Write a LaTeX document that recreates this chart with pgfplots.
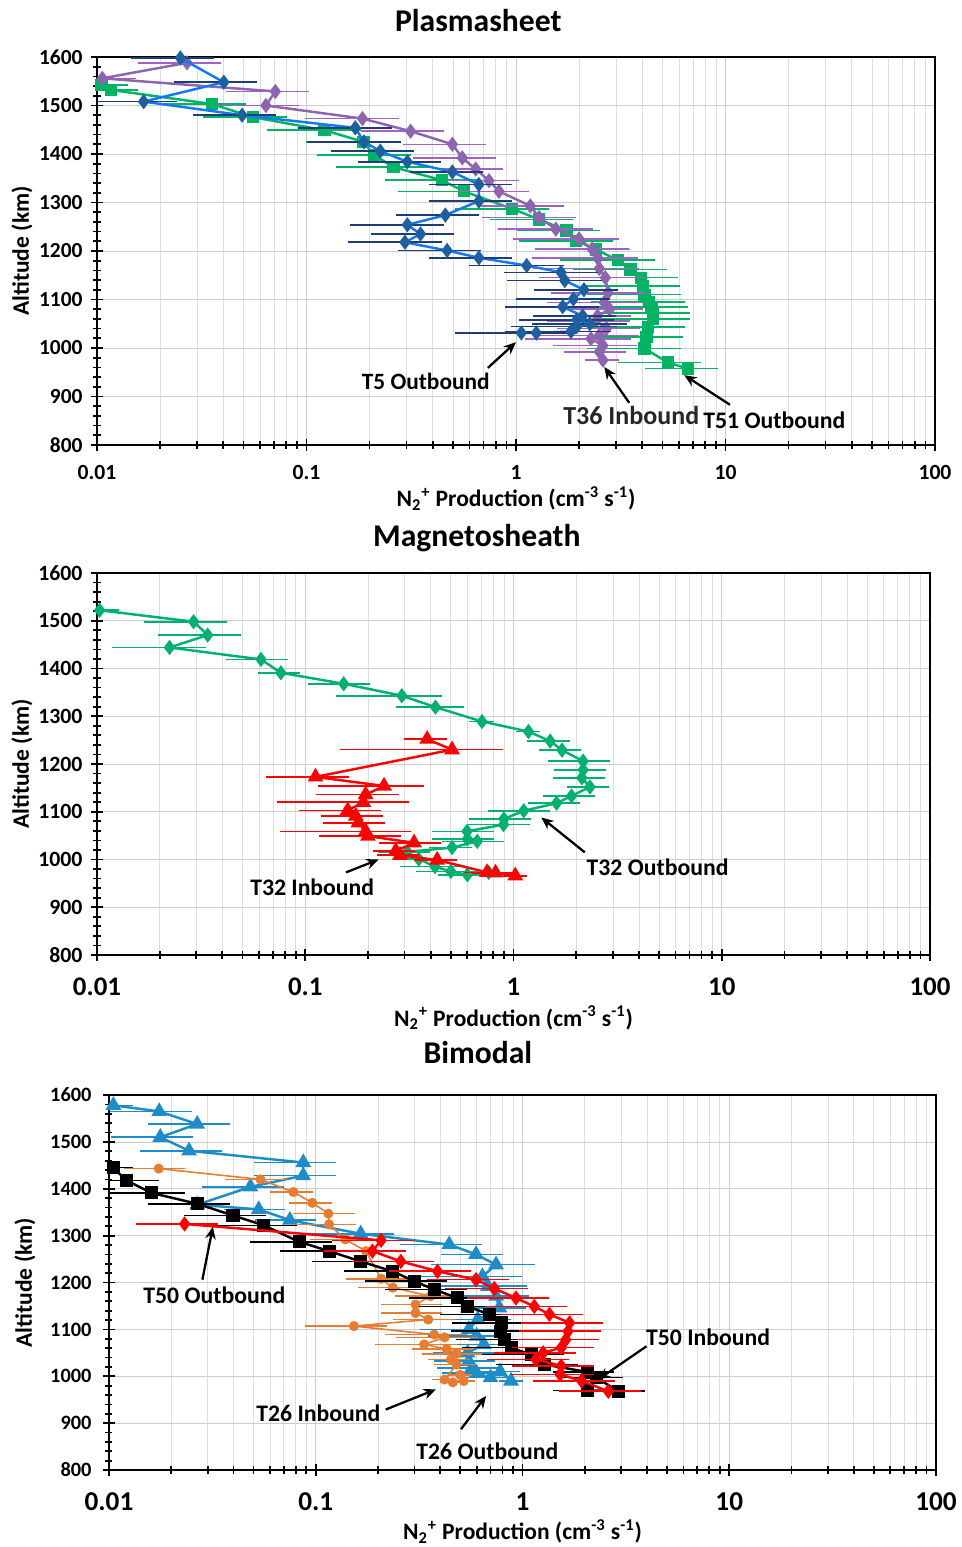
\documentclass[border=0pt]{standalone}
\usepackage{fontspec}
\setmainfont{Carlito}
\usepackage{pgfplots}
\pgfplotsset{compat=1.18}
\usetikzlibrary{arrows.meta}

\definecolor{tfiveline}{RGB}{20,120,245}
\definecolor{tfivemark}{RGB}{30,95,160}
\definecolor{tfiveerr}{RGB}{30,60,120}
\definecolor{tpurple}{RGB}{140,100,175}
\definecolor{tpurpleerr}{RGB}{165,95,200}
\definecolor{tgreen}{RGB}{0,180,100}
\definecolor{tgreentwo}{RGB}{0,176,110}
\definecolor{tred}{RGB}{255,0,0}
\definecolor{tblue}{RGB}{30,140,200}
\definecolor{torange}{RGB}{230,125,50}

\pgfplotsset{
  every axis/.append style={
    xmode=log, scale only axis,
    xmin=0.01, xmax=100, ymin=800, ymax=1600,
    xtick={0.01,0.1,1,10,100}, xticklabels={0.01,0.1,1,10,100},
    minor xtick={0.02,0.03,0.04,0.05,0.06,0.07,0.08,0.09,0.2,0.3,0.4,0.5,0.6,0.7,0.8,0.9,2,3,4,5,6,7,8,9,20,30,40,50,60,70,80,90},
    ytick={800,900,1000,1100,1200,1300,1400,1500,1600}, minor y tick num=4,
    xmajorgrids, xminorgrids, ymajorgrids,
    major grid style={black!20}, minor grid style={black!13},
    axis line style={line width=1.3pt},
    tick style={black, line width=1pt}, tick align=center, tick pos=left,
    major tick length=7pt, minor tick length=4pt,
    yticklabel style={/pgf/number format/assume math mode=true, /pgf/number format/1000 sep={}},
    clip mode=individual,
    xlabel={N\textsubscript{2}\textsuperscript{+} Production (cm\textsuperscript{-3} s\textsuperscript{-1})},
    ylabel={Altitude (km)},
  },
  myseries/.style n args={3}{line width=1.4pt, color=#1, mark options={solid, fill=#2, draw=#2},
    error bars/x dir=both, error bars/x explicit relative,
    error bars/error bar style={#3, line width=0.9pt},
    error bars/error mark options={#3, mark size=1.7pt, line width=0.9pt}},
}

\begin{document}
\begin{tikzpicture}
\path[use as bounding box] (0,0) rectangle (19.22cm,-30.94cm);

% ---------------- Plasmasheet ----------------
\begin{axis}[at={(1.94cm,-1.14cm)}, anchor=north west,
  width=16.76cm, height=7.76cm,
  title={Plasmasheet},
  title style={at={(axis description cs:0.455,1.066)}, anchor=center, font=\bfseries\fontsize{18}{20}\selectfont},
  xlabel style={at={(axis description cs:0.5,-0.137)}, anchor=center, font=\bfseries\fontsize{13.4}{15}\selectfont},
  ylabel style={at={(axis description cs:-0.0895,0.5)}, anchor=center, font=\bfseries\fontsize{13.4}{15}\selectfont},
  xticklabel style={anchor=center, yshift=-0.42cm, font=\bfseries\fontsize{12.3}{14}\selectfont},
  yticklabel style={anchor=east, inner sep=0pt, xshift=-0.16cm, font=\bfseries\fontsize{12.2}{14}\selectfont}]

\addplot[myseries={tgreen}{tgreen}{tgreen}, mark=square*, mark size=2.8pt] coordinates {
(0.0105,1542) +- (0.3,0)
(0.0117,1532) +- (0.3,0)
(0.0354,1503) +- (0.4,0)
(0.0555,1476) +- (0.4,0)
(0.122,1449) +- (0.45,0)
(0.187,1425) +- (0.45,0)
(0.21,1398) +- (0.45,0)
(0.26,1373) +- (0.45,0)
(0.443,1346) +- (0.45,0)
(0.564,1323) +- (0.5,0)
(0.96,1287) +- (0.45,0)
(1.29,1265) +- (0.4,0)
(1.74,1242) +- (0.4,0)
(1.94,1221) +- (0.45,0)
(2.41,1203) +- (0.4,0)
(3.06,1181) +- (0.45,0)
(3.52,1162) +- (0.45,0)
(3.96,1145) +- (0.45,0)
(4.03,1128) +- (0.45,0)
(4.1,1110) +- (0.45,0)
(4.3,1095) +- (0.45,0)
(4.43,1084) +- (0.45,0)
(4.5,1072) +- (0.45,0)
(4.5,1060) +- (0.45,0)
(4.26,1043) +- (0.45,0)
(4.2,1023) +- (0.45,0)
(4.11,999) +- (0.45,0)
(5.3,970) +- (0.4,0)
(6.6,958) +- (0.35,0)
};

\addplot[myseries={tpurple}{tpurple}{tpurpleerr}, mark=diamond*, mark size=3.2pt] coordinates {
(0.0269,1588) +- (0.4,0)
(0.0106,1556) +- (0.4,0)
(0.071,1529) +- (0.4,0)
(0.064,1500) +- (0.4,0)
(0.185,1473) +- (0.45,0)
(0.314,1447) +- (0.4,0)
(0.497,1420) +- (0.4,0)
(0.554,1392) +- (0.4,0)
(0.642,1369) +- (0.3,0)
(0.743,1345) +- (0.35,0)
(0.83,1323) +- (0.35,0)
(1.17,1293) +- (0.4,0)
(1.29,1269) +- (0.45,0)
(1.55,1245) +- (0.45,0)
(2.0,1225) +- (0.5,0)
(2.31,1204) +- (0.45,0)
(2.46,1185) +- (0.5,0)
(2.5,1164) +- (0.5,0)
(2.67,1145) +- (0.5,0)
(2.75,1114) +- (0.45,0)
(2.64,1094) +- (0.45,0)
(2.8,1080) +- (0.4,0)
(2.45,1066) +- (0.4,0)
(2.41,1056) +- (0.4,0)
(2.7,1040) +- (0.4,0)
(2.5,1026) +- (0.5,0)
(2.28,1019) +- (0.5,0)
(2.6,1005) +- (0.4,0)
(2.5,992) +- (0.3,0)
(2.6,975) +- (0.15,0)
};

\addplot[myseries={tfiveline}{tfivemark}{tfiveerr}, mark=diamond*, mark size=3.2pt] coordinates {
(0.025,1598) +- (0.4,0)
(0.0403,1548) +- (0.4,0)
(0.0167,1508) +- (0.4,0)
(0.0493,1480) +- (0.4,0)
(0.171,1454) +- (0.45,0)
(0.188,1425) +- (0.45,0)
(0.225,1406) +- (0.4,0)
(0.303,1384) +- (0.4,0)
(0.497,1363) +- (0.35,0)
(0.665,1337) +- (0.4,0)
(0.665,1303) +- (0.4,0)
(0.46,1274) +- (0.4,0)
(0.303,1254) +- (0.45,0)
(0.35,1235) +- (0.4,0)
(0.295,1218) +- (0.45,0)
(0.469,1201) +- (0.4,0)
(0.665,1186) +- (0.4,0)
(1.125,1170) +- (0.45,0)
(1.64,1156) +- (0.45,0)
(1.71,1139) +- (0.45,0)
(2.11,1120) +- (0.4,0)
(1.88,1101) +- (0.45,0)
(1.67,1085) +- (0.45,0)
(2.08,1066) +- (0.4,0)
(1.95,1058) +- (0.45,0)
(2.25,1050) +- (0.45,0)
(1.95,1044) +- (0.5,0)
(1.83,1034) +- (0.5,0)
(1.25,1031) +- (0.5,0)
(1.06,1031) +- (0.5,0)
};

\node[font=\bfseries\fontsize{13.3}{15}\selectfont] at (axis cs:0.371,932) {T5 Outbound};
\draw[-{Stealth[length=7pt,width=6pt]}, line width=1.3pt] (axis cs:0.734,959) -- (axis cs:1.0,1012);
\node[font=\bfseries\fontsize{14.8}{16}\selectfont, text=black!85] at (axis cs:3.55,860) {T36 Inbound};
\draw[-{Stealth[length=7pt,width=6pt]}, line width=1.3pt] (axis cs:3.47,887) -- (axis cs:2.64,961);
\node[font=\bfseries\fontsize{13.5}{15}\selectfont] at (axis cs:17.1,850) {T51 Outbound};
\draw[-{Stealth[length=7pt,width=6pt]}, line width=1.3pt] (axis cs:10.5,883) -- (axis cs:6.36,944);
\end{axis}

% ---------------- Magnetosheath ----------------
\begin{axis}[at={(1.94cm,-11.46cm)}, anchor=north west,
  width=16.66cm, height=7.64cm,
  title={Magnetosheath},
  title style={at={(axis description cs:0.456,1.063)}, anchor=center, font=\bfseries\fontsize{18}{20}\selectfont},
  xlabel style={at={(axis description cs:0.5,-0.165)}, anchor=center, font=\bfseries\fontsize{13.4}{15}\selectfont},
  ylabel style={at={(axis description cs:-0.09,0.5)}, anchor=center, font=\bfseries\fontsize{13.4}{15}\selectfont},
  xticklabel style={anchor=center, yshift=-0.52cm, font=\bfseries\fontsize{15.3}{17}\selectfont},
  yticklabel style={anchor=east, inner sep=0pt, xshift=-0.16cm, font=\bfseries\fontsize{12.4}{14}\selectfont}]

\addplot[myseries={tgreentwo}{tgreentwo}{tgreentwo}, mark=diamond*, mark size=3.2pt] coordinates {
(0.0103,1522) +- (0.2,0)
(0.0291,1498) +- (0.4,0)
(0.034,1470) +- (0.4,0)
(0.0223,1444) +- (0.45,0)
(0.0613,1419) +- (0.3,0)
(0.0764,1391) +- (0.2,0)
(0.153,1368) +- (0.3,0)
(0.291,1343) +- (0.5,0)
(0.422,1319) +- (0.33,0)
(0.706,1289) +- (0.1,0)
(1.18,1268) +- (0.1,0)
(1.5,1248) +- (0.2,0)
(1.71,1229) +- (0.2,0)
(2.16,1206) +- (0.3,0)
(2.16,1188) +- (0.25,0)
(2.13,1171) +- (0.25,0)
(2.33,1152) +- (0.2,0)
(1.9,1133) +- (0.25,0)
(1.61,1118) +- (0.25,0)
(1.12,1102) +- (0.3,0)
(0.9,1085) +- (0.3,0)
(0.896,1073) +- (0.3,0)
(0.598,1059) +- (0.3,0)
(0.6,1043) +- (0.3,0)
(0.67,1038) +- (0.3,0)
(0.507,1025) +- (0.2,0)
(0.309,1016) +- (0.25,0)
(0.351,1001) +- (0.2,0)
(0.42,985) +- (0.3,0)
(0.5,975) +- (0.3,0)
(0.6,968) +- (0.25,0)
(0.76,973) +- (0.2,0)
};

\addplot[myseries={tred}{tred}{tred}, mark=triangle*, mark size=3.8pt] coordinates {
(0.385,1252) +- (0.2,0)
(0.507,1230) +- (0.7,0)
(0.112,1173) +- (0.4,0)
(0.239,1154) +- (0.5,0)
(0.195,1136) +- (0.4,0)
(0.19,1120) +- (0.6,0)
(0.16,1103) +- (0.4,0)
(0.175,1091) +- (0.3,0)
(0.18,1077) +- (0.3,0)
(0.195,1059) +- (0.6,0)
(0.2,1049) +- (0.4,0)
(0.333,1035) +- (0.3,0)
(0.272,1018) +- (0.2,0)
(0.285,1009) +- (0.2,0)
(0.43,999) +- (0.2,0)
(0.746,973) +- (0.2,0)
(0.82,972) +- (0.2,0)
(1.02,966) +- (0.1,0)
};

\node[font=\bfseries\fontsize{13.5}{15}\selectfont] at (axis cs:0.108,942) {T32 Inbound};
\draw[-{Stealth[length=7pt,width=6pt]}, line width=1.3pt] (axis cs:0.157,973) -- (axis cs:0.225,1000);
\node[font=\bfseries\fontsize{13.5}{15}\selectfont] at (axis cs:4.92,983) {T32 Outbound};
\draw[-{Stealth[length=7pt,width=6pt]}, line width=1.3pt] (axis cs:2.2,1015) -- (axis cs:1.36,1088);
\end{axis}

% ---------------- Bimodal ----------------
\begin{axis}[at={(2.18cm,-21.90cm)}, anchor=north west,
  width=16.54cm, height=7.50cm,
  title={Bimodal},
  title style={at={(axis description cs:0.446,1.085)}, anchor=center, font=\bfseries\fontsize{18}{20}\selectfont},
  xlabel style={at={(axis description cs:0.5,-0.165)}, anchor=center, font=\bfseries\fontsize{13.4}{15}\selectfont},
  ylabel style={at={(axis description cs:-0.1016,0.5)}, anchor=center, font=\bfseries\fontsize{13.4}{15}\selectfont},
  xticklabel style={anchor=center, yshift=-0.5cm, font=\bfseries\fontsize{15.5}{17}\selectfont},
  yticklabel style={anchor=east, inner sep=0pt, xshift=-0.22cm, font=\bfseries\fontsize{11.6}{13}\selectfont}]

\addplot[myseries={tblue}{tblue}{tblue}, mark=triangle*, mark size=3.8pt] coordinates {
(0.0105,1578) +- (0.2,0)
(0.0175,1565) +- (0.4,0)
(0.0267,1538) +- (0.4,0)
(0.0177,1510) +- (0.4,0)
(0.0244,1481) +- (0.4,0)
(0.087,1456) +- (0.4,0)
(0.087,1428) +- (0.4,0)
(0.0483,1404) +- (0.4,0)
(0.0267,1366) +- (0.4,0)
(0.053,1356) +- (0.3,0)
(0.075,1333) +- (0.3,0)
(0.165,1304) +- (0.4,0)
(0.442,1281) +- (0.4,0)
(0.596,1260) +- (0.3,0)
(0.745,1238) +- (0.5,0)
(0.64,1213) +- (0.5,0)
(0.68,1192) +- (0.5,0)
(0.745,1171) +- (0.4,0)
(0.773,1146) +- (0.3,0)
(0.607,1121) +- (0.4,0)
(0.55,1100) +- (0.4,0)
(0.6,1086) +- (0.4,0)
(0.65,1068) +- (0.3,0)
(0.543,1050) +- (0.3,0)
(0.55,1032) +- (0.3,0)
(0.57,1018) +- (0.3,0)
(0.6,1007) +- (0.3,0)
(0.7,997) +- (0.2,0)
(0.78,1010) +- (0.2,0)
(0.88,990) +- (0.1,0)
};

\addplot[myseries={torange}{torange}{torange}, line width=0.9pt, mark=*, mark size=2.4pt] coordinates {
(0.0174,1443) +- (0.3,0)
(0.054,1420) +- (0.3,0)
(0.078,1393) +- (0.2,0)
(0.0963,1370) +- (0.2,0)
(0.115,1347) +- (0.3,0)
(0.116,1324) +- (0.3,0)
(0.139,1292) +- (0.3,0)
(0.175,1267) +- (0.3,0)
(0.207,1208) +- (0.3,0)
(0.236,1189) +- (0.3,0)
(0.359,1171) +- (0.3,0)
(0.304,1153) +- (0.3,0)
(0.304,1135) +- (0.3,0)
(0.35,1121) +- (0.3,0)
(0.153,1107) +- (0.4,0)
(0.374,1089) +- (0.4,0)
(0.42,1083) +- (0.4,0)
(0.334,1068) +- (0.4,0)
(0.43,1058) +- (0.3,0)
(0.48,1048) +- (0.3,0)
(0.45,1036) +- (0.2,0)
(0.48,1025) +- (0.2,0)
(0.42,993) +- (0.1,0)
(0.46,987) +- (0.1,0)
(0.52,990) +- (0.1,0)
(0.5,1003) +- (0.1,0)
};

\addplot[myseries={black}{black}{black}, mark=square*, mark size=3pt] coordinates {
(0.0105,1445) +- (0.2,0)
(0.0121,1418) +- (0.4,0)
(0.0161,1391) +- (0.4,0)
(0.0267,1368) +- (0.4,0)
(0.0398,1343) +- (0.4,0)
(0.0561,1322) +- (0.4,0)
(0.083,1287) +- (0.4,0)
(0.116,1267) +- (0.4,0)
(0.165,1245) +- (0.4,0)
(0.235,1224) +- (0.4,0)
(0.299,1203) +- (0.4,0)
(0.374,1185) +- (0.4,0)
(0.485,1167) +- (0.4,0)
(0.543,1149) +- (0.4,0)
(0.69,1132) +- (0.4,0)
(0.789,1114) +- (0.4,0)
(0.78,1096) +- (0.4,0)
(0.818,1078) +- (0.4,0)
(0.88,1061) +- (0.4,0)
(1.1,1046) +- (0.4,0)
(1.28,1025) +- (0.4,0)
(2.07,1009) +- (0.3,0)
(2.28,997) +- (0.3,0)
(2.9,968) +- (0.3,0)
(2.07,970) +- (0.3,0)
};

\addplot[myseries={tred}{tred}{tred}, mark=diamond*, mark size=3.2pt] coordinates {
(0.0232,1325) +- (0.4,0)
(0.207,1290) +- (0.4,0)
(0.188,1267) +- (0.4,0)
(0.258,1245) +- (0.4,0)
(0.388,1224) +- (0.4,0)
(0.596,1206) +- (0.4,0)
(0.731,1187) +- (0.4,0)
(0.93,1167) +- (0.4,0)
(1.14,1149) +- (0.4,0)
(1.35,1132) +- (0.4,0)
(1.69,1114) +- (0.4,0)
(1.66,1096) +- (0.4,0)
(1.62,1078) +- (0.4,0)
(1.54,1061) +- (0.4,0)
(1.26,1050) +- (0.4,0)
(1.16,1036) +- (0.4,0)
(1.54,1022) +- (0.4,0)
(1.52,1004) +- (0.4,0)
(1.93,990) +- (0.4,0)
(2.6,968) +- (0.4,0)
};

\node[font=\bfseries\fontsize{13.5}{15}\selectfont] at (axis cs:0.0323,1172) {T50 Outbound};
\draw[-{Stealth[length=7pt,width=6pt]}, line width=1.3pt] (axis cs:0.0283,1206) -- (axis cs:0.0318,1319);
\node[font=\bfseries\fontsize{13.5}{15}\selectfont] at (axis cs:7.9,1083) {T50 Inbound};
\draw[-{Stealth[length=7pt,width=6pt]}, line width=1.3pt] (axis cs:3.98,1064) -- (axis cs:2.32,993);
\node[font=\bfseries\fontsize{13.5}{15}\selectfont] at (axis cs:0.103,921) {T26 Inbound};
\draw[-{Stealth[length=7pt,width=6pt]}, line width=1.3pt] (axis cs:0.218,929) -- (axis cs:0.381,972);
\node[font=\bfseries\fontsize{13.5}{15}\selectfont] at (axis cs:0.676,840) {T26 Outbound};
\draw[-{Stealth[length=7pt,width=6pt]}, line width=1.3pt] (axis cs:0.504,887) -- (axis cs:0.667,958);
\end{axis}
\end{tikzpicture}
\end{document}
